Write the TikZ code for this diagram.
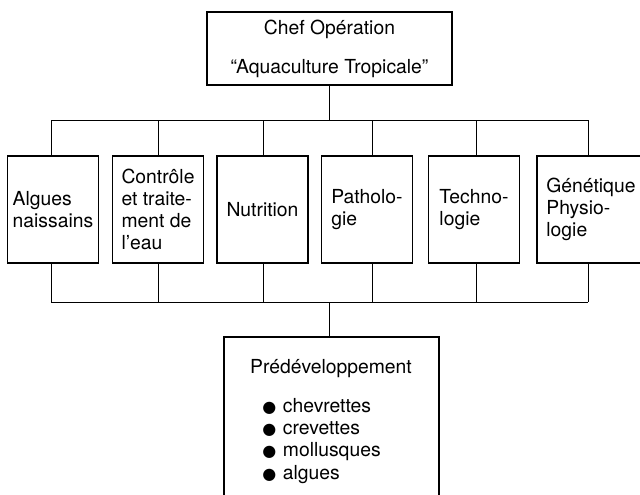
\documentclass[tikz,border=0pt]{standalone}
\usepackage{fontspec}
\setmainfont{TeX Gyre Heros}
\newfontfamily\symbfont{DejaVu Sans}
\newcommand{\puce}{{\symbfont\fontsize{12}{12}\selectfont ●}\hspace{5pt}}

\tikzset{
    unitbox/.style={draw, line width=0.9pt, minimum width=68.25pt, minimum height=80.25pt, align=left, inner sep=0pt},
    headbox/.style={draw, line width=0.9pt, minimum width=183.75pt, minimum height=54.75pt, align=center, inner sep=0pt},
    wire/.style={line width=0.7pt}
}

\begin{document}
\begin{tikzpicture}[x=0.75pt, y=-0.75pt, font=\fontsize{14.5}{16.7}\selectfont]
    \useasboundingbox (0,0) rectangle (640,494);

    % Head of the operation
    \node[headbox] (chef) at (329.5,48.5) {Chef Opération\\[12.5pt]“Aquaculture Tropicale”};

    % Research units
    \node[unitbox] (algues) at (53,209.5) {Algues\\naissains};
    \node[unitbox] (eau) at (158,209.5) {Contrôle\\et traite-\\ment de\\l’eau};
    \node[unitbox] (nutri) at (262.5,209.5) {Nutrition};
    \node[unitbox] (patho) at (367,209.5) {Patholo-\\gie};
    \node[unitbox] (techno) at (474,209.5) {Techno-\\logie};
    \node[unitbox, minimum width=81pt] (gene) at (591,209.5) {Génétique\\Physio-\\logie};

    % Predevelopment
    \node[draw, line width=0.9pt, minimum width=161.25pt, minimum height=137.25pt] (pred) at (331.5,428.5) {};
    \node[anchor=base] (predtitle) at (331,373) {Prédéveloppement};
    \node[anchor=base west, align=left, inner sep=0pt] (predlist) at (262,479)
        {\puce chevrettes\\\puce crevettes\\\puce mollusques\\\puce algues};

    % Top bus
    \coordinate (t1) at (51,120);
    \coordinate (t2) at (158,120);
    \coordinate (t3) at (263,120);
    \coordinate (t4) at (372,120);
    \coordinate (t5) at (476,120);
    \coordinate (t6) at (588,120);
    \draw[wire] (t1) -- (t6);
    \draw[wire] (chef.south) -- (chef.south |- t1);
    \draw[wire] (t1) -- (t1 |- algues.north);
    \draw[wire] (t2) -- (t2 |- eau.north);
    \draw[wire] (t3) -- (t3 |- nutri.north);
    \draw[wire] (t4) -- (t4 |- patho.north);
    \draw[wire] (t5) -- (t5 |- techno.north);
    \draw[wire] (t6) -- (t6 |- gene.north);

    % Bottom bus
    \coordinate (b1) at (51,302);
    \coordinate (b2) at (158,302);
    \coordinate (b3) at (263,302);
    \coordinate (b4) at (372,302);
    \coordinate (b5) at (476,302);
    \coordinate (b6) at (588,302);
    \coordinate (bmid) at (329,302);
    \draw[wire] (b1) -- (b6);
    \draw[wire] (algues.south -| b1) -- (b1);
    \draw[wire] (eau.south -| b2) -- (b2);
    \draw[wire] (nutri.south -| b3) -- (b3);
    \draw[wire] (patho.south -| b4) -- (b4);
    \draw[wire] (techno.south -| b5) -- (b5);
    \draw[wire] (gene.south -| b6) -- (b6);
    \draw[wire] (bmid) -- (bmid |- pred.north);
\end{tikzpicture}
\end{document}
